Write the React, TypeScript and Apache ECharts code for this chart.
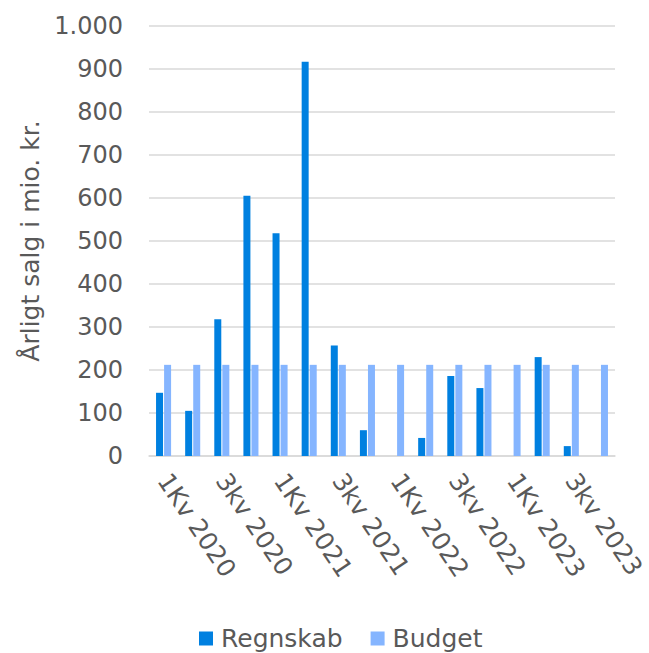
import React, { useEffect, useRef } from "react";
import * as echarts from "echarts";

const categories = [
  "1Kv 2020", "2Kv 2020", "3kv 2020", "4kv 2020",
  "1Kv 2021", "2Kv 2021", "3kv 2021", "4kv 2021",
  "1Kv 2022", "2Kv 2022", "3kv 2022", "4kv 2022",
  "1Kv 2023", "2Kv 2023", "3kv 2023", "4kv 2023",
];
const regnskab = [147, 105, 318, 605, 518, 917, 257, 60, 0, 42, 186, 158, 0, 230, 23, 0];
const budget = [212, 212, 212, 212, 212, 212, 212, 212, 212, 212, 212, 212, 212, 212, 212, 212];

const FONT = "DejaVu Sans";
const TEXT = "#595959";

export default function App() {
  const ref = useRef<HTMLDivElement>(null);
  useEffect(() => {
    if (!ref.current) return;
    const chart = echarts.init(ref.current, null, { renderer: "svg" });
    chart.setOption({
      animation: false,
      textStyle: { fontFamily: FONT },
      grid: { left: 149, right: 34, top: 26, bottom: 197, outerBoundsMode: "none", containLabel: false },
      legend: {
        top: 621,
        left: 194,
        itemWidth: 14,
        itemHeight: 14,
        itemGap: 28,
        icon: "rect",
        textStyle: { fontFamily: FONT, fontSize: 25, color: TEXT, padding: [0, 0, 0, 3] },
        data: ["Regnskab", "Budget"],
      },
      xAxis: {
        type: "category",
        data: categories,
        axisLine: { lineStyle: { color: "#D9D9D9", width: 1.5 } },
        axisTick: { show: false },
        axisLabel: {
          interval: 1,
          rotate: -56,
          margin: 20,
          fontFamily: FONT,
          fontSize: 25,
          color: TEXT,
        },
      },
      yAxis: {
        type: "value",
        min: 0,
        max: 1000,
        interval: 100,
        name: "Årligt salg i mio. kr.",
        nameLocation: "middle",
        nameGap: 104,
        nameTextStyle: { fontFamily: FONT, fontSize: 25, color: TEXT },
        axisLine: { show: false },
        axisTick: { show: false },
        splitLine: { lineStyle: { color: "#D9D9D9", width: 1.5 } },
        axisLabel: {
          margin: 26,
          fontFamily: FONT,
          fontSize: 24,
          color: TEXT,
          formatter: (v: number) => v.toLocaleString("da-DK"),
        },
      },
      series: [
        {
          name: "Regnskab",
          type: "bar",
          data: regnskab,
          barWidth: 7,
          barGap: "15%",
          itemStyle: { color: "#0080E0" },
        },
        {
          name: "Budget",
          type: "bar",
          data: budget,
          barWidth: 7,
          itemStyle: { color: "#85B5FF" },
        },
      ],
    });
    return () => chart.dispose();
  }, []);
  return (
    <div
      ref={ref}
      style={{ position: "absolute", left: 0, top: 0, width: 649, height: 653 }}
    />
  );
}
